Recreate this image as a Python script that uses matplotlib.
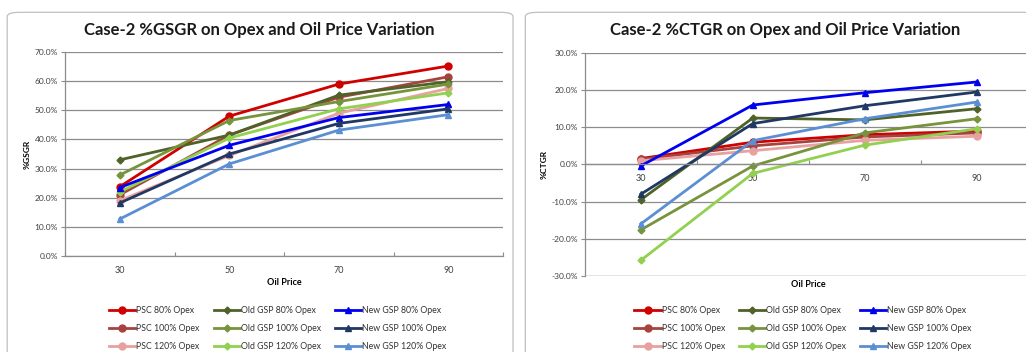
import numpy as np
import matplotlib
matplotlib.use("Agg")
import matplotlib.pyplot as plt
from matplotlib.patches import FancyBboxPatch
from matplotlib.ticker import FuncFormatter

plt.rcParams["font.family"] = ["Lato", "DejaVu Sans"]

oil_price = [30, 50, 70, 90]
series = ["PSC 80% Opex", "PSC 100% Opex", "PSC 120% Opex",
          "Old GSP 80% Opex", "Old GSP 100% Opex", "Old GSP 120% Opex",
          "New GSP 80% Opex", "New GSP 100% Opex", "New GSP 120% Opex"]

# %GSGR values per series (oil price 30, 50, 70, 90)
gsgr_psc80 = [23.8, 48.0, 59.0, 65.2]
gsgr_psc100 = [21.0, 41.5, 54.5, 61.5]
gsgr_psc120 = [19.0, 34.5, 49.0, 57.5]
gsgr_old80 = [33.0, 41.5, 55.2, 59.8]
gsgr_old100 = [27.8, 46.5, 53.0, 59.0]
gsgr_old120 = [22.0, 40.5, 50.5, 56.0]
gsgr_new80 = [23.5, 38.0, 47.5, 52.0]
gsgr_new100 = [18.2, 35.0, 45.5, 50.5]
gsgr_new120 = [12.7, 31.6, 43.2, 48.5]

# %CTGR values per series
ctgr_psc80 = [1.6, 6.0, 8.0, 9.0]
ctgr_psc100 = [1.4, 5.0, 7.4, 8.5]
ctgr_psc120 = [1.0, 3.7, 6.5, 7.6]
ctgr_old80 = [-9.5, 12.5, 12.0, 15.0]
ctgr_old100 = [-17.6, -0.4, 8.5, 12.3]
ctgr_old120 = [-25.8, -2.4, 5.2, 9.6]
ctgr_new80 = [-0.4, 16.0, 19.3, 22.2]
ctgr_new100 = [-8.0, 11.0, 15.8, 19.5]
ctgr_new120 = [-16.0, 6.4, 12.3, 16.8]

colors = ["#d00000", "#a5433f", "#e8a0a0",
          "#4f6228", "#77933c", "#92d050",
          "#0000f0", "#1f3864", "#5b8fd4"]
markers = ["o", "o", "o", "D", "D", "D", "^", "^", "^"]
msizes = [5, 5, 5, 3.5, 3.5, 3.5, 5, 5, 5]

GRID = "#8c8c8c"; TICK = "#404040"

fig = plt.figure(figsize=(10.26, 3.52), dpi=100)
for x0, w in [(0.007, 0.493), (0.512, 0.52)]:
    fig.patches.append(FancyBboxPatch((x0, -0.1), w, 1.065, transform=fig.transFigure,
                                      boxstyle="round,pad=0,rounding_size=0.012",
                                      fc="white", ec="#bfbfbf", lw=0.9, clip_on=False,
                                      zorder=-5))


def draw(ax, data, ylim, ylabel, title, tx, legend_x):
    x = np.arange(len(oil_price))
    for vals, name, c, m, ms in zip(data, series, colors, markers, msizes):
        ax.plot(x, vals, color=c, lw=2, marker=m, ms=ms, label=name)
    ax.set_xlim(-0.5, len(oil_price) - 0.5)
    ax.set_ylim(*ylim)
    ax.set_yticks(np.arange(ylim[0], ylim[1] + 1, 10))
    ax.yaxis.set_major_formatter(FuncFormatter(lambda v, p: f"{v:.1f}%"))
    ax.set_xticks(np.arange(-0.5, len(oil_price)), minor=False)
    ax.set_xticklabels([])
    ax.set_xticks(x, minor=True)
    ax.set_xticklabels([str(v) for v in oil_price], minor=True)
    ax.tick_params(axis="x", which="minor", length=0, labelsize=6.5, colors=TICK, pad=7)
    ax.tick_params(axis="x", which="major", length=3, direction="in", color=GRID)
    ax.tick_params(axis="y", length=3, labelsize=6, colors=TICK, pad=2)
    ax.tick_params(axis="y", color=GRID)
    ax.grid(axis="y", color=GRID, lw=0.9)
    ax.set_axisbelow(True)
    ax.patch.set_alpha(0)
    for s in ["top", "right"]:
        ax.spines[s].set_visible(False)
    for s in ["left", "bottom"]:
        ax.spines[s].set_color(GRID)
        ax.spines[s].set_linewidth(0.9)
    ax.set_ylabel(ylabel, fontsize=6, fontweight="bold", labelpad=3)
    fig.text(tx, 0.915, title, ha="center", va="center", fontsize=12, fontweight="bold", color="#1a1a1a")
    ax.legend(loc="upper left", bbox_to_anchor=(legend_x, 0.14), bbox_transform=fig.transFigure,
              ncol=3, frameon=False, fontsize=6.3, handlelength=3, handletextpad=0.1,
              columnspacing=1.6, labelspacing=1.0, borderaxespad=0, labelcolor="#333333")


ax1 = fig.add_axes([0.0634, 0.2727, 0.427, 0.5795])
draw(ax1, [gsgr_psc80, gsgr_psc100, gsgr_psc120, gsgr_old80, gsgr_old100, gsgr_old120,
           gsgr_new80, gsgr_new100, gsgr_new120],
     (0, 70), "%GSGR", "Case-2 %GSGR on Opex and Oil Price Variation", 0.253, 0.103)
ax1.text(0.5, -0.13, "Oil Price", transform=ax1.transAxes, ha="center", va="center",
         fontsize=6.5, fontweight="bold")

ax2 = fig.add_axes([0.570, 0.216, 0.4366, 0.6335])
draw(ax2, [ctgr_psc80, ctgr_psc100, ctgr_psc120, ctgr_old80, ctgr_old100, ctgr_old120,
           ctgr_new80, ctgr_new100, ctgr_new120],
     (-30, 30), "%CTGR", "Case-2 %CTGR on Opex and Oil Price Variation", 0.765, 0.615)
ax2.spines["bottom"].set_position(("data", 0))
ax2.text(0.5, -0.04, "Oil Price", transform=ax2.transAxes, ha="center", va="center",
         fontsize=6.5, fontweight="bold")
ax2.axhline(-30, color=GRID, lw=0.9, zorder=0)

fig.savefig("out.png", dpi=100)
